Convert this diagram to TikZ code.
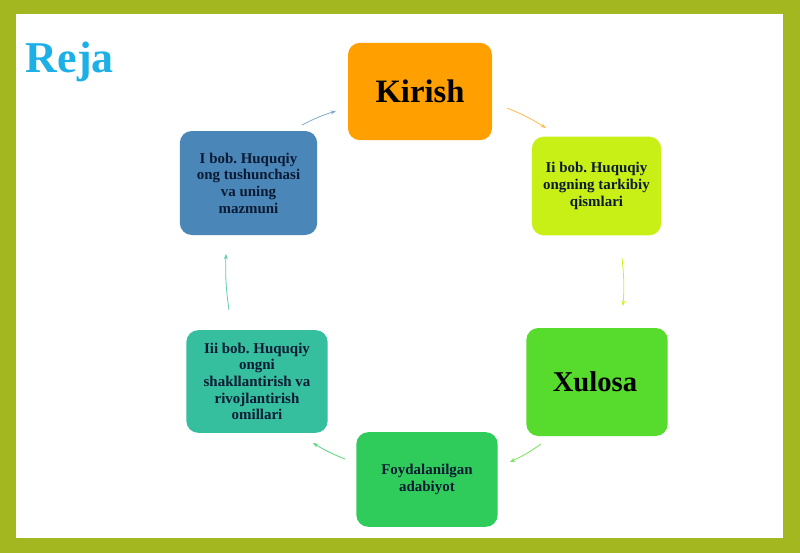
\documentclass[tikz,border=0pt]{standalone}
\usepackage{fontspec}
\setmainfont{Liberation Serif}
\usetikzlibrary{arrows.meta}
\frenchspacing
\definecolor{frame}{HTML}{A3B720}
\definecolor{cOrange}{HTML}{FF9F00}
\definecolor{cLime}{HTML}{C9F016}
\definecolor{cGreen}{HTML}{57DC2E}
\definecolor{cGreen2}{HTML}{2FCC5C}
\definecolor{cTeal}{HTML}{36BF9F}
\definecolor{cBlue}{HTML}{4A86B8}
\definecolor{cText}{HTML}{0B1A33}
\definecolor{cReja}{HTML}{1CB0E6}
\tikzset{
  box/.style={rounded corners=9pt, inner sep=0pt, align=center, text=cText,
    font=\bfseries\fontsize{11.2pt}{12.5pt}\selectfont},
  conn/.style={-{Stealth[length=4pt,width=3pt]}, line width=0.6pt, bend left=5}
}
\begin{document}
\begin{tikzpicture}[x=0.75pt,y=-0.75pt]
\useasboundingbox (0,0) rectangle (800,553);
\fill[frame] (0,0) rectangle (800,553);
\fill[white] (16,14) rectangle (783,538);
\node[font=\bfseries\fontsize{33pt}{36pt}\selectfont, text=cReja, anchor=west] (reja) at (21,62) {Reja};

\node[box, fill=cOrange, minimum width=108pt, minimum height=73pt, font=\bfseries\fontsize{24.5pt}{27pt}\selectfont, text=black] (kirish) at (420,91.5) {Kirish};
\node[box, fill=cLime, minimum width=97pt, minimum height=74pt] (ii) at (596.5,186) {Ii bob. Huquqiy\\ongning tarkibiy\\qismlari};
\node[box, fill=cGreen, minimum width=106pt, minimum height=81pt, font=\bfseries\fontsize{21.5pt}{24pt}\selectfont, text=black] (xulosa) at (597,382) {\hspace*{-3pt}Xulosa};
\node[box, fill=cGreen2, minimum width=106pt, minimum height=71pt] (foyd) at (427,479.5) {Foydalanilgan\\adabiyot};
\node[box, fill=cTeal, minimum width=106pt, minimum height=77pt] (iii) at (257,381.5) {Iii bob. Huquqiy\\ongni\\shakllantirish va\\rivojlantirish\\omillari};
\node[box, fill=cBlue, minimum width=103pt, minimum height=78pt] (ibob) at (248.5,183) {I bob. Huquqiy\\ong tushunchasi\\va uning\\mazmuni};

\coordinate (a1s) at (302,125); \coordinate (a1e) at (336,111);
\coordinate (a2s) at (507,108); \coordinate (a2e) at (546,128);
\coordinate (a3s) at (622,258); \coordinate (a3e) at (623,306);
\coordinate (a4s) at (541,444); \coordinate (a4e) at (510,462);
\coordinate (a5s) at (345,459); \coordinate (a5e) at (313,443);
\coordinate (a6s) at (229,310); \coordinate (a6e) at (226,254);
\draw[conn, color=cBlue!70] (a1s) to (a1e);
\draw[conn, color=cOrange!70] (a2s) to (a2e);
\draw[conn, color=cLime!80!yellow] (a3s) to (a3e);
\draw[conn, color=cGreen!80] (a4s) to (a4e);
\draw[conn, color=cGreen2!80] (a5s) to (a5e);
\draw[conn, color=cTeal!80] (a6s) to (a6e);
\end{tikzpicture}
\end{document}
